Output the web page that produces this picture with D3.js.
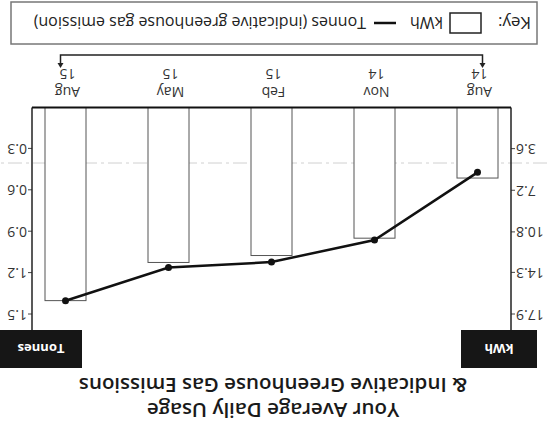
<!DOCTYPE html>
<html>
<head>
<meta charset="utf-8">
<script src="https://cdn.jsdelivr.net/npm/d3@7"></script>
<style>
  body { margin: 0; background: #fff; }
  svg { display: block; font-family: "Open Sans", sans-serif; }
</style>
</head>
<body>
<script>
var periods = ["Aug 14", "Nov 14", "Feb 15", "May 15", "Aug 15"];
var kwh = [6.1, 11.3, 12.8, 13.4, 16.7];
var tonnes = [0.47, 0.96, 1.12, 1.16, 1.40];
var kwhTicks = [3.6, 7.2, 10.8, 14.3, 17.9];
var tonneTicks = [0.3, 0.6, 0.9, 1.2, 1.5];
var titleLines = ["Your Average Daily Usage", "& Indicative Greenhouse Gas Emissions"];

var width = 547, height = 439;
var plotL = 36, plotR = 515, base = 331.5, plotTop = 124.5;

var svg = d3.select("body").append("svg")
    .attr("width", width)
    .attr("height", height);

svg.append("rect").attr("width", width).attr("height", height).attr("fill", "#fff");

// the scan is upside down, so draw upright and turn it
var g = svg.append("g")
    .attr("transform", "rotate(180 " + width / 2 + " " + height / 2 + ")");

var x = d3.scalePoint().domain(periods).range([69.5, 481.5]);
var yK = d3.scaleLinear().domain([0, 17.9]).range([base, plotTop]);
var yT = d3.scaleLinear().domain([0, 1.5]).range([base, plotTop]);

// title
g.append("text")
    .attr("x", 274).attr("y", 36)
    .attr("text-anchor", "middle")
    .attr("font-size", 20.5).attr("font-weight", 600).attr("fill", "#1a1a1a")
  .selectAll("tspan")
  .data(titleLines)
  .join("tspan")
    .attr("x", 274)
    .attr("dy", function(d, i) { return i ? 25 : 0; })
    .text(function(d) { return d; });

// unit boxes
var boxes = [
  {label: "kWh", x: 10, w: 76},
  {label: "Tonnes", x: 465, w: 82}
];
g.selectAll(".unit")
  .data(boxes)
  .join("rect")
    .attr("x", function(d) { return d.x; })
    .attr("y", 71)
    .attr("width", function(d) { return d.w; })
    .attr("height", 38)
    .attr("fill", "#161616");
g.selectAll(".unitlbl")
  .data(boxes)
  .join("text")
    .attr("x", function(d) { return d.x + d.w / 2; })
    .attr("y", 95)
    .attr("text-anchor", "middle")
    .attr("font-size", 13).attr("font-weight", 700).attr("fill", "#fff")
    .text(function(d) { return d.label; });

// faint scanner crease
g.append("line")
    .attr("x1", 0).attr("x2", width)
    .attr("y1", 276).attr("y2", 276)
    .attr("stroke", "#d0d0d0").attr("stroke-width", 1)
    .attr("stroke-dasharray", "14,4,3,4");

// bars
g.selectAll(".bar")
  .data(kwh)
  .join("rect")
    .attr("x", function(d, i) { return x(periods[i]) - 20.5; })
    .attr("y", function(d) { return yK(d); })
    .attr("width", 41)
    .attr("height", function(d) { return base - yK(d); })
    .attr("fill", "#fff")
    .attr("stroke", "#555")
    .attr("stroke-width", 1);

// axes
var axK = g.append("g")
    .attr("transform", "translate(" + plotL + ",0)")
    .call(d3.axisLeft(yK).tickValues(kwhTicks).tickSize(4).tickSizeOuter(0)
      .tickFormat(function(d) { return d.toFixed(1); }));
var axT = g.append("g")
    .attr("transform", "translate(" + plotR + ",0)")
    .call(d3.axisRight(yT).tickValues(tonneTicks).tickSize(4).tickSizeOuter(0)
      .tickFormat(function(d) { return d.toFixed(1); }));
[axK, axT].forEach(function(a) {
  a.select(".domain").remove();
  a.selectAll("line").attr("stroke", "#444");
  a.selectAll("text").attr("font-size", 14).attr("fill", "#333")
    .attr("font-family", "Open Sans, sans-serif");
});
axK.selectAll("text").attr("x", -5);
axT.selectAll("text").attr("x", 5);

g.append("line").attr("x1", plotL).attr("x2", plotL).attr("y1", 109).attr("y2", base)
    .attr("stroke", "#222").attr("stroke-width", 1.5);
g.append("line").attr("x1", plotR).attr("x2", plotR).attr("y1", 109).attr("y2", base)
    .attr("stroke", "#222").attr("stroke-width", 1.5);
g.append("line").attr("x1", plotL).attr("x2", plotR).attr("y1", base).attr("y2", base)
    .attr("stroke", "#111").attr("stroke-width", 2);

// category labels
var cat = g.selectAll(".cat")
  .data(periods)
  .join("text")
    .attr("text-anchor", "middle")
    .attr("font-size", 14).attr("fill", "#333");
cat.selectAll("tspan")
  .data(function(d) { return d.split(" ").map(function(s) { return {s: s, p: d}; }); })
  .join("tspan")
    .attr("x", function(d) { return x(d.p) - 2; })
    .attr("y", function(d, i) { return i ? 370 : 352; })
    .text(function(d) { return d.s; });

// bracket spanning the periods
var bx0 = x(periods[0]) - 5, bx1 = x(periods[periods.length - 1]) + 5;
g.append("path")
    .attr("d", "M" + bx0 + ",374V384H" + bx1 + "V374")
    .attr("fill", "none").attr("stroke", "#222").attr("stroke-width", 1.5);
g.selectAll(".arrow")
  .data([bx0, bx1])
  .join("path")
    .attr("d", function(d) { return "M" + (d - 3) + ",376L" + d + ",371L" + (d + 3) + ",376Z"; })
    .attr("fill", "#222");

// tonnes line
var line = d3.line()
    .x(function(d, i) { return x(periods[i]); })
    .y(function(d) { return yT(d); });
g.append("path")
    .datum(tonnes)
    .attr("d", line)
    .attr("fill", "none").attr("stroke", "#111").attr("stroke-width", 2.5);
g.selectAll(".dot")
  .data(tonnes)
  .join("circle")
    .attr("cx", function(d, i) { return x(periods[i]); })
    .attr("cy", function(d) { return yT(d); })
    .attr("r", 3.5)
    .attr("fill", "#111");

// key
var key = g.append("g");
key.append("rect")
    .attr("x", 10).attr("y", 395).attr("width", 526).attr("height", 42)
    .attr("fill", "#fff").attr("stroke", "#777").attr("stroke-width", 1.5);
key.append("text").attr("x", 16).attr("y", 422)
    .attr("font-size", 17).attr("fill", "#222").text("Key:");
key.append("rect").attr("x", 66).attr("y", 406).attr("width", 31).attr("height", 20)
    .attr("fill", "#fff").attr("stroke", "#222").attr("stroke-width", 1.5);
key.append("text").attr("x", 104).attr("y", 422)
    .attr("font-size", 16).attr("fill", "#222").text("kWh");
key.append("line").attr("x1", 151).attr("x2", 173).attr("y1", 416).attr("y2", 416)
    .attr("stroke", "#111").attr("stroke-width", 2.5);
key.append("text").attr("x", 181).attr("y", 422)
    .attr("font-size", 16).attr("fill", "#222")
    .text("Tonnes (indicative greenhouse gas emission)");
</script>
</body>
</html>
